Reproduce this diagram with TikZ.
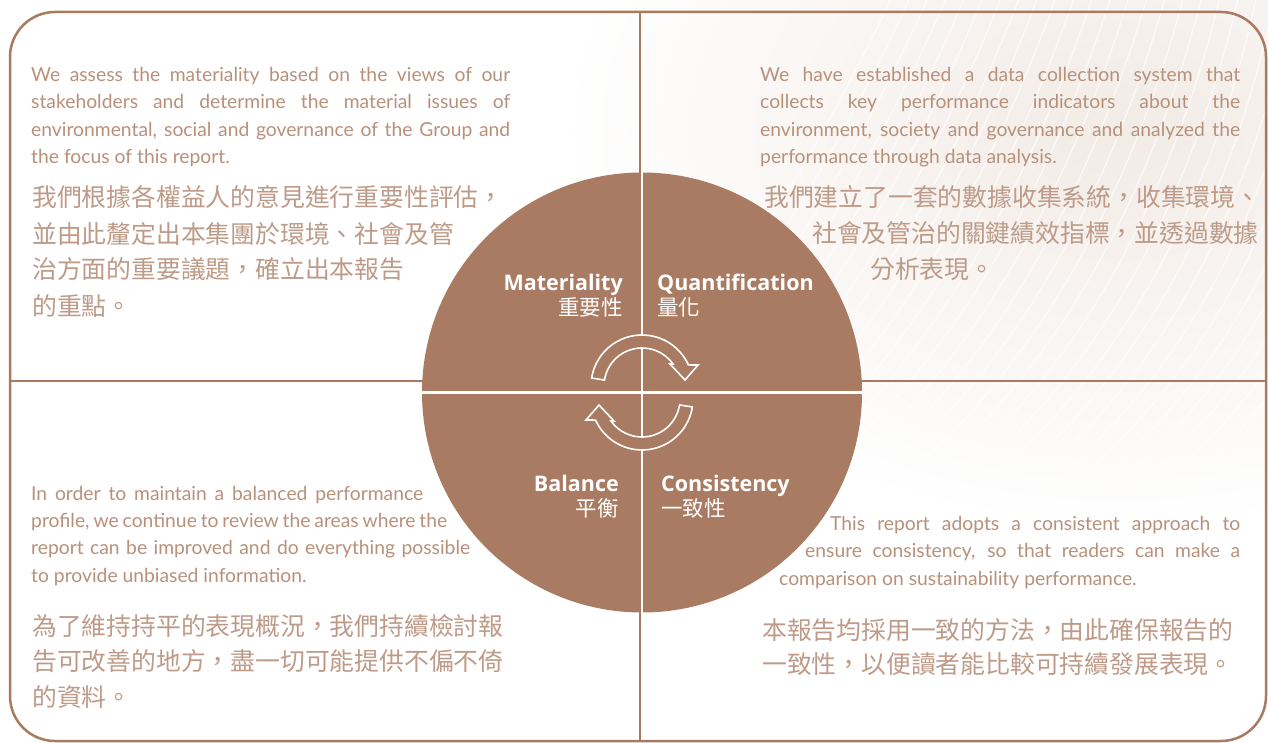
\documentclass[tikz,border=0pt]{standalone}
\usepackage{fontspec}
\setmainfont{Lato}
\newfontfamily\labelfont{Open Sans}
\newfontfamily\cjk{Noto Sans CJK TC}
\usetikzlibrary{calc}

\definecolor{framebrown}{RGB}{168,122,96}
\definecolor{discbrown}{RGB}{169,123,98}
\definecolor{inkbrown}{RGB}{184,145,123}
\definecolor{cjkink}{RGB}{190,155,136}
\definecolor{haze}{RGB}{242,235,230}

\tikzset{
  quadline/.style={framebrown, line width=2pt},
  engpara/.style={anchor=base west, inner sep=0pt, align=left, text=inkbrown,
    font=\fontsize{19.3}{27.6}\selectfont},
  cjkpara/.style={anchor=base west, inner sep=0pt, align=left, text=cjkink,
    font=\fontsize{24.8}{36}\cjk},
  disclabel/.style={inner sep=0pt, text=white,
    font=\fontsize{21.5}{25}\labelfont\bfseries},
  cyclestyle/.style={fill=discbrown, draw=white, line width=1.6pt, line join=miter}
}

% one of the two turning arrows, drawn round its own centre
\newcommand\cyclearrow{%
  \path[cyclestyle] (171:51) arc[start angle=171, end angle=24.4, radius=51]
    -- (56,21) -- (43,6) -- (28,22)
    -- (35.3:38) arc[start angle=35.3, end angle=171, radius=38] -- cycle;}

\begin{document}
\begin{tikzpicture}[x=1pt, y=-1pt]
  \useasboundingbox (0,0) rectangle (1268,743);
  %%%%% BACKGROUND %%%%%
  \fill[white] (0,0) rectangle (1268,743);
  \begin{scope}
    \clip (0,0) rectangle (1268,743);
    \shade[inner color=haze, outer color=white] (1120,130) ellipse (560 and 400);
    \foreach \i in {0,...,34}
      \draw[white, line width=1.2pt, opacity=0.7]
        (560+\i*22, 470) .. controls (720+\i*22, 330) and (830+\i*20, 130) .. (900+\i*18, -20);
  \end{scope}

  %%%%% FRAME %%%%%
  \draw[quadline] (640,12) -- (640,741);
  \draw[quadline] (10,381) -- (1266,381);
  \draw[framebrown, line width=2.5pt, rounded corners=45pt] (10,12) rectangle (1266,741);

  %%%%% DISC %%%%%
  \node[circle, fill=discbrown, minimum size=440pt, inner sep=0pt, outer sep=0pt] (disc) at (642,392.5) {};
  \draw[white, line width=2.4pt] (disc.north) -- (disc.south);
  \draw[white, line width=2.4pt] (disc.west) -- (disc.east);

  \begin{scope}[shift={(642,392.5)}, yscale=-1]
    \begin{scope}[shift={(0,6.5)}]
      \cyclearrow
    \end{scope}
    \begin{scope}[rotate=180, shift={(0,6.5)}]
      \cyclearrow
    \end{scope}
  \end{scope}

  % base of a node with two lines is its last line
  \node[disclabel, align=right, anchor=base east] (matlabel) at (623,315) {Materiality\\{\cjk\mdseries 重要性}};
  \node[disclabel, align=left, anchor=base west] (quantlabel) at (657,315) {Quantification\\{\cjk\mdseries 量化}};
  \node[disclabel, align=right, anchor=base east] (ballabel) at (619,516) {Balance\\{\cjk\mdseries 平衡}};
  \node[disclabel, align=left, anchor=base west] (conslabel) at (661,516) {Consistency\\{\cjk\mdseries 一致性}};

  %%%%% TEXTS %%%%%
  \node[engpara] (tleng) at (31,164) {%
    \makebox[479pt][s]{We assess the materiality based on the views of our}\\
    \makebox[479pt][s]{stakeholders and determine the material issues of}\\
    \makebox[479pt][s]{environmental, social and governance of the Group and}\\
    the focus of this report.};
  \node[cjkpara] (tlcjk) at (32,315) {%
    我們根據各權益人的意見進行重要性評估，\\
    並由此釐定出本集團於環境、社會及管\\
    治方面的重要議題，確立出本報告\\
    的重點。};

  \node[engpara] (treng) at (760,164) {%
    \makebox[480pt][s]{We have established a data collection system that}\\
    \makebox[480pt][s]{collects key performance indicators about the}\\
    \makebox[480pt][s]{environment, society and governance and analyzed the}\\
    performance through data analysis.};
  \node[cjkpara, font=\fontsize{24.8}{36.5}\cjk] (trcjk) at (764,279) {%
    我們建立了一套的數據收集系統，收集環境、\\
    \hspace*{48pt}社會及管治的關鍵績效指標，並透過數據\\
    \hspace*{106pt}分析表現。};

  \node[engpara, font=\fontsize{19.3}{27.3}\selectfont] (bleng) at (31,582) {%
    \makebox[392pt][s]{In order to maintain a balanced performance}\\
    \makebox[416pt][s]{profile, we continue to review the areas where the}\\
    \makebox[439pt][s]{report can be improved and do everything possible}\\
    to provide unbiased information.};
  \node[cjkpara, font=\fontsize{24.8}{35.2}\cjk] (blcjk) at (32,706) {%
    為了維持持平的表現概況，我們持續檢討報\\
    告可改善的地方，盡一切可能提供不偏不倚\\
    的資料。};

  \node[engpara, font=\fontsize{19.3}{27.3}\selectfont] (breng) at (779,585) {%
    \hspace*{51pt}\makebox[410pt][s]{This report adopts a consistent approach to}\\
    \hspace*{26pt}\makebox[435pt][s]{ensure consistency, so that readers can make a}\\
    comparison on sustainability performance.};
  \node[cjkpara, font=\fontsize{24.8}{33.5}\cjk] (brcjk) at (762,673) {%
    本報告均採用一致的方法，由此確保報告的\\
    一致性，以便讀者能比較可持續發展表現。};
\end{tikzpicture}
\end{document}
